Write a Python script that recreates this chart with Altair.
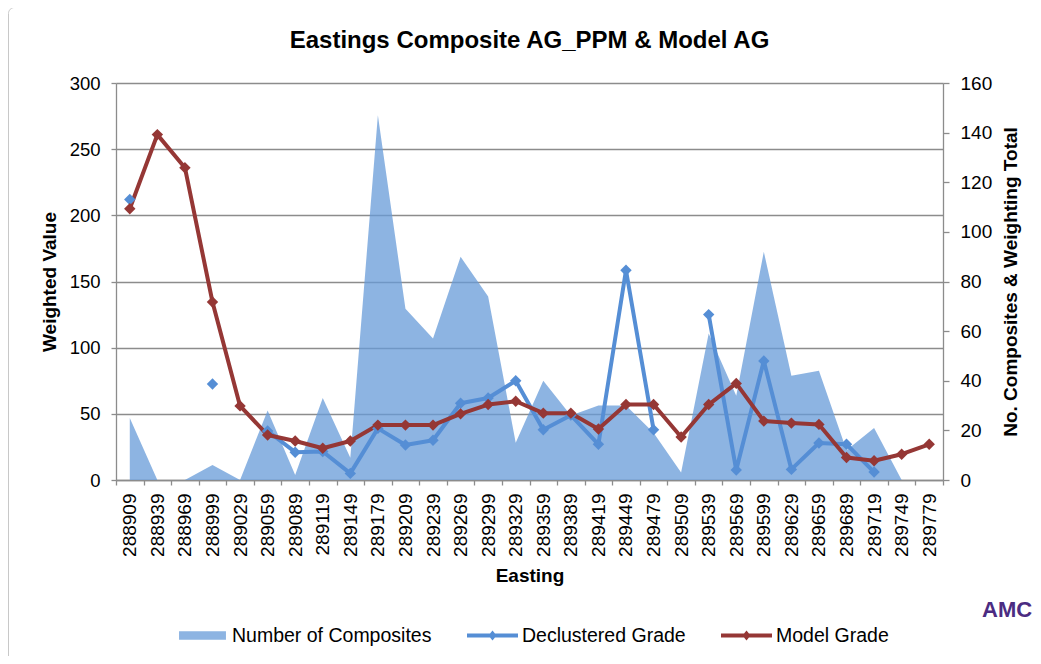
import altair as alt
import pandas as pd

eastings = ["288909", "288939", "288969", "288999", "289029", "289059", "289089",
            "289119", "289149", "289179", "289209", "289239", "289269", "289299",
            "289329", "289359", "289389", "289419", "289449", "289479", "289509",
            "289539", "289569", "289599", "289629", "289659", "289689", "289719",
            "289749", "289779"]

composites = [25, 0, 0, 6, 0, 28, 2, 33, 9, 147, 69, 57, 90, 74, 15,
              40, 26, 30, 30, 19, 3, 59, 34, 92, 42, 44, 12, 21, 0, 0]

declustered = [212, None, None, 72.5, None, 37, 21, 21.5, 5, 39, 26.5, 30, 58, 62, 75,
               38, 49, 27, 158.5, 38, None, 125, 7.5, 90, 8, 28, 27, 6, None, None]

model = [205, 261, 236, 134.5, 56, 34, 29.5, 24, 29.5, 41.5, 41.5, 41.5, 50, 57, 59.5,
         50.5, 50.5, 38.5, 57, 57, 32.5, 57, 73, 44.5, 43, 42, 17, 14.5, 19.5, 27]

series_names = ["Number of Composites", "Declustered Grade", "Model Grade"]
series_colors = ["#8DB4E2", "#558ED5", "#953735"]

FONT = "Liberation Sans"
GRID = "#8C8C8C"

area_df = pd.DataFrame({"Easting": eastings, "value": composites, "series": series_names[0]})
dec_df = pd.DataFrame({"Easting": eastings, "value": declustered, "series": series_names[1]})
dec_df["seg"] = dec_df["value"].isna().cumsum()
dec_df = dec_df.dropna()
mod_df = pd.DataFrame({"Easting": eastings, "value": model, "series": series_names[2], "seg": -1})
lines_df = pd.concat([dec_df, mod_df], ignore_index=True)

x_enc = alt.X(
    "Easting:N",
    sort=eastings,
    scale=alt.Scale(type="band", domain=eastings, paddingInner=0, paddingOuter=0),
    bandPosition=0.5,
    axis=alt.Axis(
        title="Easting", labelAngle=-90, tickBand="extent", tickSize=5,
        labelPadding=8, labelFontSize=19, labelColor="black",
        titleFontSize=19, titleFontWeight="bold", titleColor="black", titlePadding=10,
        domainColor=GRID, tickColor=GRID, domainWidth=1.3, tickWidth=1.3, grid=False,
    ),
)

legend = alt.Legend(
    title=None, orient="none", legendX=61, legendY=527, direction="horizontal",
    symbolType=alt.ExprRef(
        "datum.value == 'Number of Composites' ? 'M-0.92,-0.17H0.92V0.17H-0.92Z' : "
        "'M-1,-0.075H1V0.075H-1Z M0,-0.2L0.16,0L0,0.2L-0.16,0Z'"
    ),
    symbolSize=2601, symbolStrokeWidth=0, symbolOpacity=1,
    labelFontSize=19.5, labelColor="black", labelFont=FONT, labelOffset=4,
    labelLimit=400, columnPadding=35,
)
color_enc = alt.Color("series:N", scale=alt.Scale(domain=series_names, range=series_colors),
                      legend=legend)

right_axis = alt.Axis(
    orient="right", values=[0, 20, 40, 60, 80, 100, 120, 140, 160], grid=False,
    title="No. Composites & Weighting Total", titleAngle=270, titleBaseline="top",
    titleFontSize=19, titleFontWeight="bold", titleColor="black", titlePadding=10,
    labelFontSize=19, labelColor="black", labelPadding=11, tickSize=6,
    domainColor=GRID, tickColor=GRID, domainWidth=1.3, tickWidth=1.3,
)
left_axis = alt.Axis(
    orient="left", values=[0, 50, 100, 150, 200, 250, 300], grid=True,
    gridColor=GRID, gridWidth=1.3,
    title="Weighted Value", titleFontSize=19, titleFontWeight="bold", titleColor="black",
    titlePadding=10, labelFontSize=18.5, labelColor="black", labelPadding=11, tickSize=5,
    domainColor=GRID, tickColor=GRID, domainWidth=1.3, tickWidth=1.3,
)

area = alt.Chart(area_df).mark_area(fill="#679BD8", opacity=0.75).encode(
    x=x_enc,
    y=alt.Y("value:Q", scale=alt.Scale(domain=[0, 160]), axis=right_axis),
    color=color_enc,
)

y_left = alt.Y("value:Q", scale=alt.Scale(domain=[0, 300]), axis=left_axis)

lines = alt.Chart(lines_df).mark_line(strokeWidth=4, strokeJoin="round").encode(
    x=x_enc,
    y=y_left,
    stroke=alt.Stroke("series:N", scale=alt.Scale(domain=series_names, range=series_colors),
                      legend=None),
    detail="seg:N",
)
points = alt.Chart(lines_df).mark_point(shape="diamond", filled=True, size=130, opacity=1).encode(
    x=x_enc,
    y=y_left,
    color=color_enc,
)

border = alt.Chart(pd.DataFrame({"k": [0]})).mark_rect(
    fill="transparent", stroke="#C8C8C8", strokeWidth=1, cornerRadius=6
).encode(x=alt.value(-107.5), y=alt.value(-75.5), x2=alt.value(960), y2=alt.value(620))

logo = alt.Chart(pd.DataFrame({"t": ["AMC"]})).mark_text(
    font=FONT, fontSize=22, fontWeight="bold", color="#4B2C82", align="left",
    baseline="alphabetic"
).encode(text="t:N", x=alt.value(866), y=alt.value(534))

chart = alt.layer(
    border, area, alt.layer(lines, points), logo
).resolve_scale(y="independent").properties(
    width=827, height=397,
    padding={"left": 108, "top": 75, "right": 90, "bottom": 176},
    autosize=alt.AutoSizeParams(type="none"),
    title=alt.TitleParams(
        text="Eastings Composite AG_PPM & Model AG", fontSize=24, font=FONT,
        fontWeight="bold", color="black", anchor="middle", frame="group", offset=0, dy=46,
    ),
).configure(font=FONT).configure_view(strokeWidth=0).configure_axis(
    labelFont=FONT, titleFont=FONT
)

chart.save("out.html", embed_options={"renderer": "svg", "actions": False})
